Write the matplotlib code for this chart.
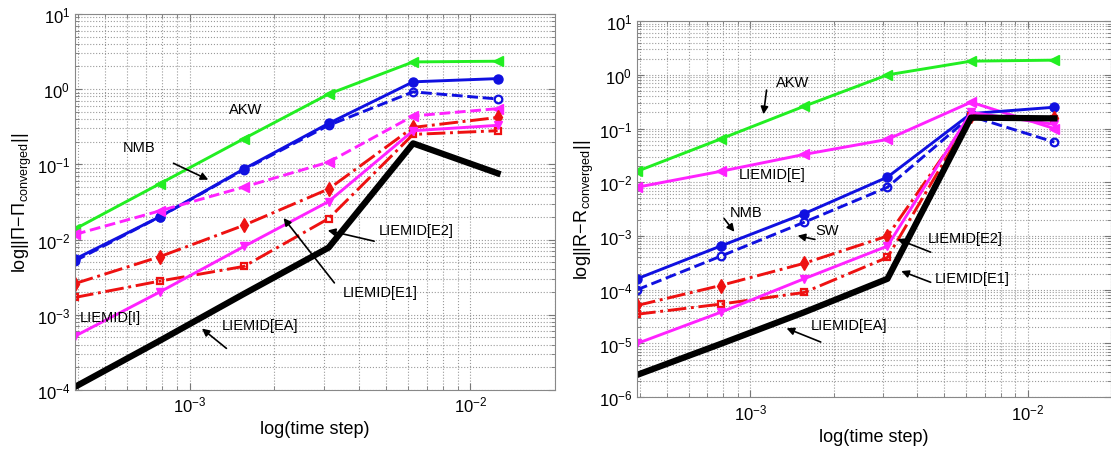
import numpy as np
import matplotlib
matplotlib.use("Agg")
import matplotlib.pyplot as plt
from matplotlib.ticker import LogLocator, NullFormatter

plt.rcParams['font.family'] = ['Liberation Sans', 'DejaVu Sans']
plt.rcParams['mathtext.fontset'] = 'custom'
plt.rcParams['mathtext.rm'] = 'Liberation Sans'
plt.rcParams['mathtext.it'] = 'Liberation Sans:italic'
plt.rcParams['mathtext.bf'] = 'Liberation Sans:bold'

# time steps (halved each run)
time_step = [0.000390625, 0.00078125, 0.0015625, 0.003125, 0.00625, 0.0125]

# left panel: ||Pi - Pi_converged||
pi_akw = [0.0138, 0.055, 0.22, 0.86, 2.3, 2.35]
pi_nmb = [0.0055, 0.020, 0.087, 0.35, 1.25, 1.38]
pi_sw = [0.0052, 0.020, 0.085, 0.33, 0.92, 0.74]
pi_e = [0.0117, 0.024, 0.050, 0.107, 0.44, 0.55]
pi_e2 = [0.0026, 0.0059, 0.0155, 0.047, 0.31, 0.42]
pi_e1 = [0.0017, 0.0028, 0.0044, 0.019, 0.25, 0.28]
pi_i = [0.00052, 0.0020, 0.0081, 0.032, 0.28, 0.33]
pi_ea = [0.00011, 0.00045, 0.0019, 0.0078, 0.19, 0.076]

# right panel: ||R - R_converged||
r_akw = [0.016, 0.064, 0.26, 1.0, 1.8, 1.88]
r_e = [0.0081, 0.016, 0.033, 0.063, 0.31, 0.10]
r_nmb = [0.00016, 0.00065, 0.0026, 0.0125, 0.19, 0.25]
r_sw = [0.00010, 0.00042, 0.0018, 0.0081, 0.17, 0.056]
r_e2 = [5.1e-5, 0.00012, 0.00031, 0.0010, 0.17, 0.155]
r_e1 = [3.5e-5, 5.4e-5, 8.9e-5, 0.00040, 0.17, 0.15]
r_i = [1.0e-5, 3.8e-5, 0.00016, 0.00065, 0.20, 0.12]
r_ea = [2.6e-6, 9.8e-6, 3.8e-5, 0.00016, 0.16, 0.155]

green = '#22ee22'
blue = '#1010e0'
mag = '#ff22ff'
red = '#ee1111'

fig = plt.figure(figsize=(11.11, 4.52), dpi=100)
ax1 = fig.add_axes([0.0675, 0.135, 0.432, 0.832])
ax2 = fig.add_axes([0.5734, 0.119, 0.4266, 0.832])


def style(ax, ylim, ylabel):
    ax.set_xscale('log')
    ax.set_yscale('log')
    ax.set_xlim(time_step[0], 2e-2)
    ax.set_ylim(*ylim)
    ax.xaxis.set_major_locator(LogLocator(base=10, numticks=100))
    ax.yaxis.set_major_locator(LogLocator(base=10, numticks=100))
    ax.xaxis.set_minor_locator(LogLocator(base=10, subs=np.arange(2, 10), numticks=100))
    ax.yaxis.set_minor_locator(LogLocator(base=10, subs=np.arange(2, 10), numticks=100))
    ax.xaxis.set_minor_formatter(NullFormatter())
    ax.yaxis.set_minor_formatter(NullFormatter())
    ax.grid(True, which='both', ls=':', color='#9a9a9a', lw=0.8)
    ax.set_axisbelow(True)
    ax.tick_params(which='both', direction='in', top=True, right=True, labelsize=12, color='#777777')
    ax.tick_params(which='major', length=5)
    ax.tick_params(which='minor', length=3)
    for s in ax.spines.values():
        s.set_color('#888888')
    ax.set_xlabel('log(time step)', fontsize=13)
    ax.set_ylabel(ylabel, fontsize=13, labelpad=2)


def note(ax, text, pos, tail=None, head=None, ha='center'):
    ax.text(pos[0], pos[1], text, transform=ax.transAxes, fontsize=10.5, ha=ha, va='center')
    if tail is not None:
        ax.annotate('', xy=head, xytext=tail, xycoords='axes fraction',
                    arrowprops=dict(arrowstyle='-|>', color='black', lw=1.2, mutation_scale=11))


# left panel
ax1.plot(time_step, pi_akw, '-', color=green, lw=2.1, marker='<', ms=7)
ax1.plot(time_step, pi_nmb, '-', color=blue, lw=2.1, marker='o', ms=6.5)
ax1.plot(time_step, pi_sw, '--', color=blue, lw=2.1, marker='o', ms=5.5, mfc='none', mew=1.6)
ax1.plot(time_step, pi_e, '--', color=mag, lw=2.1, marker='<', ms=7)
ax1.plot(time_step, pi_e2, '-.', color=red, lw=2.1, marker='d', ms=7)
ax1.plot(time_step, pi_e1, '-.', color=red, lw=2.1, marker='s', ms=5, mfc='none', mew=1.6)
ax1.plot(time_step, pi_i, '-', color=mag, lw=2.1, marker='v', ms=6)
ax1.plot(time_step, pi_ea, '-', color='black', lw=4.5)
style(ax1, (1e-4, 1e1), r'log$||\mathrm{\Pi}\!-\!\mathrm{\Pi}_{\mathrm{converged}}||$')

note(ax1, 'AKW', (0.356, 0.747))
note(ax1, 'NMB', (0.134, 0.646), (0.20, 0.606), (0.283, 0.556))
note(ax1, 'LIEMID[E2]', (0.71, 0.426), (0.629, 0.394), (0.521, 0.426))
note(ax1, 'LIEMID[E1]', (0.635, 0.261), (0.544, 0.279), (0.431, 0.463))
note(ax1, 'LIEMID[I]', (0.01, 0.194), ha='left')
note(ax1, 'LIEMID[EA]', (0.385, 0.173), (0.32, 0.106), (0.26, 0.168))

# right panel
ax2.plot(time_step, r_akw, '-', color=green, lw=2.1, marker='<', ms=7)
ax2.plot(time_step, r_e, '-', color=mag, lw=2.1, marker='<', ms=7)
ax2.plot(time_step, r_nmb, '-', color=blue, lw=2.1, marker='o', ms=6.5)
ax2.plot(time_step, r_sw, '--', color=blue, lw=2.1, marker='o', ms=5.5, mfc='none', mew=1.6)
ax2.plot(time_step, r_e2, '-.', color=red, lw=2.1, marker='d', ms=7)
ax2.plot(time_step, r_e1, '-.', color=red, lw=2.1, marker='s', ms=5, mfc='none', mew=1.6)
ax2.plot(time_step, r_i, '-', color=mag, lw=2.1, marker='v', ms=6)
ax2.plot(time_step, r_ea, '-', color='black', lw=4.5)
style(ax2, (1e-6, 1e1), r'log$||\mathrm{R}\!-\!\mathrm{R}_{\mathrm{converged}}||$')

note(ax2, 'AKW', (0.328, 0.838), (0.274, 0.824), (0.266, 0.745))
note(ax2, 'LIEMID[E]', (0.285, 0.593))
note(ax2, 'NMB', (0.23, 0.492), (0.18, 0.481), (0.209, 0.434))
note(ax2, 'SW', (0.40, 0.444), (0.381, 0.418), (0.333, 0.431))
note(ax2, 'LIEMID[E2]', (0.692, 0.423), (0.625, 0.383), (0.544, 0.423))
note(ax2, 'LIEMID[E1]', (0.707, 0.316), (0.625, 0.303), (0.552, 0.338))
note(ax2, 'LIEMID[EA]', (0.448, 0.191), (0.393, 0.144), (0.31, 0.186))

fig.savefig('out.png', dpi=100)
